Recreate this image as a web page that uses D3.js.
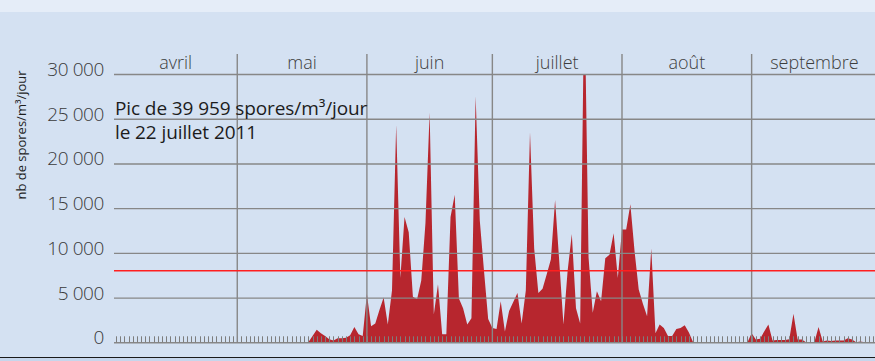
<!DOCTYPE html>
<html lang="fr">
<head>
<meta charset="utf-8">
<script src="https://cdn.jsdelivr.net/npm/d3@7"></script>
<style>
  html, body { margin: 0; padding: 0; background: #d4e1f2; }
  svg { display: block; }
</style>
</head>
<body>
<svg id="chart" width="875" height="361"></svg>
<script>
// Months shown on the time axis and their lengths (1 April – 30 September 2011)
const months = ["avril", "mai", "juin", "juillet", "août", "septembre"];
const monthDays = [30, 31, 30, 31, 31, 30];

// Y-axis ticks (spores/m³/jour)
const yTicks = [0, 5000, 10000, 15000, 20000, 25000, 30000];

// Alert threshold drawn as a red line
const threshold = 8000;

// Peak annotation
const peakLines = ["Pic de 39 959 spores/m³/jour", "le 22 juillet 2011"];

// Daily spore counts, one value per day from 1 April to 30 September
const april = [0,0,0,0,0,0,0,0,0,0, 0,0,0,0,0,0,0,0,0,0, 0,0,0,0,0,0,0,0,0,0];
const may = [0,0,0,0,0,0,0,0,0,0, 0,0,0,0,0,0,0,700,1400,1000,
             700,350,200,450,450,500,800,1700,900,700,5400];
const june = [1800,2100,3600,5000,2000,5800,24300,7200,14000,12300,
              5100,4800,6900,13300,25700,3100,6500,900,900,14000,
              16500,4900,3800,2000,2700,27500,13600,8000,2600,1600];
const july = [1500,4600,1200,3500,4500,5500,2100,5800,23500,10500,
              5500,6000,7600,9300,15900,9000,2000,8000,12100,3800,
              2100,39959,9500,3300,5700,4600,9400,9800,12200,7200,12600];
const august = [12600,15450,10200,5900,4300,2900,10500,1000,2000,1600,
                700,700,1500,1600,1900,1100,0,0,0,0,
                0,0,0,0,0,0,0,0,0,0,1000];
const september = [300,400,1200,2000,200,250,250,250,350,3200,
                   300,300,0,0,0,1700,100,200,150,200,
                   200,200,450,300,0,100,0,0,0,0];

const values = [].concat(april, may, june, july, august, september);

const W = 875, H = 361;
const plotLeft = 114, plotRight = 875;
const svg = d3.select("#chart");

const totalDays = d3.sum(monthDays);
const x = d3.scaleLinear().domain([0, totalDays]).range([111.8, 877.1]);
const y = d3.scaleLinear().domain([0, 30000]).range([342.3, 74]);

const fr = d3.formatLocale({ decimal: ",", thousands: " ", grouping: [3], currency: ["", " €"] });
const fmt = fr.format(",d");

// Background panel
svg.append("rect").attr("width", W).attr("height", H).attr("fill", "#d4e1f2");
svg.append("rect").attr("width", W).attr("height", 12).attr("fill", "#e5edf8");
svg.append("rect").attr("y", 358).attr("width", W).attr("height", 3).attr("fill", "#c6d6ec");
svg.append("line").attr("x1", 0).attr("x2", W).attr("y1", 357.5).attr("y2", 357.5)
  .attr("stroke", "#1a1a1a").attr("stroke-width", 1.2);

// Clip so the July peak stops at the top of the scale
svg.append("clipPath").attr("id", "plot-clip")
  .append("rect").attr("x", plotLeft).attr("y", y(30000))
  .attr("width", plotRight - plotLeft).attr("height", y(0) - y(30000) + 1);

// Daily counts as a filled area
const area = d3.area()
  .x((d, i) => x(i + 1))
  .y0(y(0))
  .y1(d => y(d));

svg.append("path")
  .datum(values)
  .attr("clip-path", "url(#plot-clip)")
  .attr("fill", "#b7262e")
  .attr("d", area);

// Horizontal gridlines and value labels
const yAxis = d3.axisLeft(y)
  .tickValues(yTicks)
  .tickFormat(fmt)
  .tickSizeInner(-(plotRight - plotLeft))
  .tickSizeOuter(0)
  .tickPadding(10);

const gy = svg.append("g").attr("transform", `translate(${plotLeft},0)`).call(yAxis);
gy.select(".domain").remove();
gy.selectAll(".tick line").attr("stroke", "#878787").attr("stroke-width", 1.4);
gy.selectAll(".tick text")
  .attr("dy", 1.5)
  .attr("fill", "#3a3a3a")
  .style("font-family", "'Open Sans', sans-serif")
  .style("font-weight", 300)
  .style("font-size", "19px")
  .style("letter-spacing", "-0.4px");

// Daily tick marks along the baseline
const dayTicks = d3.range(1, totalDays + 1);
svg.append("g").selectAll("line")
  .data(dayTicks)
  .join("line")
  .attr("x1", d => Math.round(x(d)) + 0.5)
  .attr("x2", d => Math.round(x(d)) + 0.5)
  .attr("y1", y(0) - 6)
  .attr("y2", y(0))
  .attr("stroke", "#7d7d7d")
  .attr("stroke-width", 1);

// Month boundaries and labels
const starts = [0];
monthDays.forEach((n, i) => starts.push(starts[i] + n));

svg.append("g").selectAll("line")
  .data(starts.slice(1, -1))
  .join("line")
  .attr("x1", d => x(d))
  .attr("x2", d => x(d))
  .attr("y1", 54)
  .attr("y2", y(0))
  .attr("stroke", "#878787")
  .attr("stroke-width", 1.4);

svg.append("g").selectAll("text")
  .data(months)
  .join("text")
  .attr("x", (d, i) => (Math.max(x(starts[i]), plotLeft) + x(starts[i + 1])) / 2)
  .attr("y", 69)
  .attr("text-anchor", "middle")
  .attr("fill", "#3d3d3d")
  .style("font-family", "'Open Sans', sans-serif")
  .style("font-weight", 300)
  .style("font-size", "18px")
  .text(d => d);

// Threshold line
svg.append("line")
  .attr("x1", plotLeft).attr("x2", plotRight)
  .attr("y1", y(threshold)).attr("y2", y(threshold))
  .attr("stroke", "#ff1f1f")
  .attr("stroke-width", 1.5);

// Axis title
svg.append("text")
  .attr("transform", "translate(25.5,135) rotate(-90)")
  .attr("text-anchor", "middle")
  .attr("fill", "#1e1e1e")
  .style("font-family", "'Open Sans', sans-serif")
  .style("font-size", "13px")
  .text("nb de spores/m³/jour");

// Peak annotation
svg.append("g").selectAll("text")
  .data(peakLines)
  .join("text")
  .attr("x", 115)
  .attr("y", (d, i) => 114.5 + i * 24)
  .attr("fill", "#1c1c1c")
  .style("font-family", "'Open Sans', sans-serif")
  .style("font-size", "19px")
  .style("letter-spacing", "-0.1px")
  .text(d => d);
</script>
</body>
</html>
